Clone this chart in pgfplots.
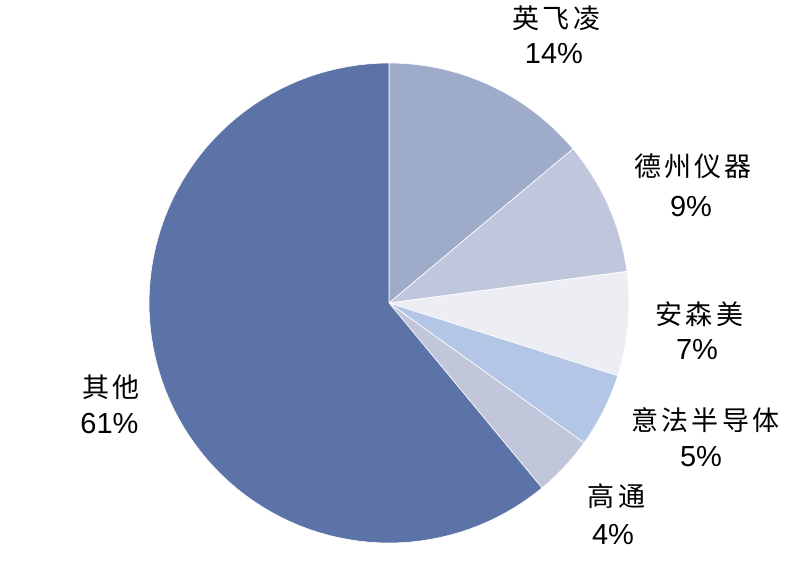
\documentclass[border=0pt]{standalone}
\usepackage{pgfplots}
\pgfplotsset{compat=1.18}
\usepackage{fontspec}
\setmainfont{Liberation Sans}
\newfontfamily\cjk[LetterSpace=12]{Noto Sans CJK SC}
\definecolor{cA}{HTML}{9EACCA}
\definecolor{cB}{HTML}{C0C7DC}
\definecolor{cC}{HTML}{EDEEF4}
\definecolor{cD}{HTML}{B4C6E6}
\definecolor{cE}{HTML}{C1C6DA}
\definecolor{cF}{HTML}{5C73A8}
% slice values (percent), clockwise from 12 o'clock
\def\vA{13.9}\def\vB{9.0}\def\vC{7.0}\def\vD{5.0}\def\vE{4.1}\def\vF{61.0}
\pgfmathsetmacro\aA{0}
\pgfmathsetmacro\aB{\aA+3.6*\vA}
\pgfmathsetmacro\aC{\aB+3.6*\vB}
\pgfmathsetmacro\aD{\aC+3.6*\vC}
\pgfmathsetmacro\aE{\aD+3.6*\vD}
\pgfmathsetmacro\aF{\aE+3.6*\vE}
\pgfmathsetmacro\aG{\aF+3.6*\vF}
\newcommand\cn[1]{{\cjk\fontsize{27bp}{27bp}\selectfont #1}}
\newcommand\pc[1]{{\fontsize{29bp}{29bp}\selectfont #1}}
\begin{document}
\begin{tikzpicture}
\begin{axis}[
  scale only axis, width=800bp, height=586bp,
  xmin=0, xmax=800, ymin=0, ymax=586, y dir=reverse,
  hide axis, clip=false]
\pgfplotsset{slice/.style={draw=white, line width=0.6pt, samples=90, variable=\t}}
\addplot[slice, fill=cA, domain=\aA:\aB] ({389+240*sin(\t)},{303-240*cos(\t)}) -- (axis cs:389,303) -- cycle;
\addplot[slice, fill=cB, domain=\aB:\aC] ({389+240*sin(\t)},{303-240*cos(\t)}) -- (axis cs:389,303) -- cycle;
\addplot[slice, fill=cC, domain=\aC:\aD] ({389+240*sin(\t)},{303-240*cos(\t)}) -- (axis cs:389,303) -- cycle;
\addplot[slice, fill=cD, domain=\aD:\aE] ({389+240*sin(\t)},{303-240*cos(\t)}) -- (axis cs:389,303) -- cycle;
\addplot[slice, fill=cE, domain=\aE:\aF] ({389+240*sin(\t)},{303-240*cos(\t)}) -- (axis cs:389,303) -- cycle;
\addplot[slice, fill=cF, domain=\aF:\aG] ({389+240*sin(\t)},{303-240*cos(\t)}) -- (axis cs:389,303) -- cycle;
\tikzset{lb/.style={anchor=base, inner sep=0pt}}
\node[lb] at (axis cs:556.5,29) {\cn{英飞凌}};
\node[lb] at (axis cs:554,63.5) {\pc{14\%}};
\node[lb] at (axis cs:693,176.5) {\cn{德州仪器}};
\node[lb] at (axis cs:691,216.5) {\pc{9\%}};
\node[lb] at (axis cs:699.5,324.5) {\cn{安森美}};
\node[lb] at (axis cs:697,359.5) {\pc{7\%}};
\node[lb] at (axis cs:705.5,430.5) {\cn{意法半导体}};
\node[lb] at (axis cs:701,466.5) {\pc{5\%}};
\node[lb] at (axis cs:616.5,506.5) {\cn{高通}};
\node[lb] at (axis cs:613,544.5) {\pc{4\%}};
\node[lb] at (axis cs:111,397.5) {\cn{其他}};
\node[lb] at (axis cs:109.5,433.5) {\pc{61\%}};
\end{axis}
\pgfresetboundingbox
\path (0,0) rectangle (800bp,586bp);
\end{tikzpicture}
\end{document}
